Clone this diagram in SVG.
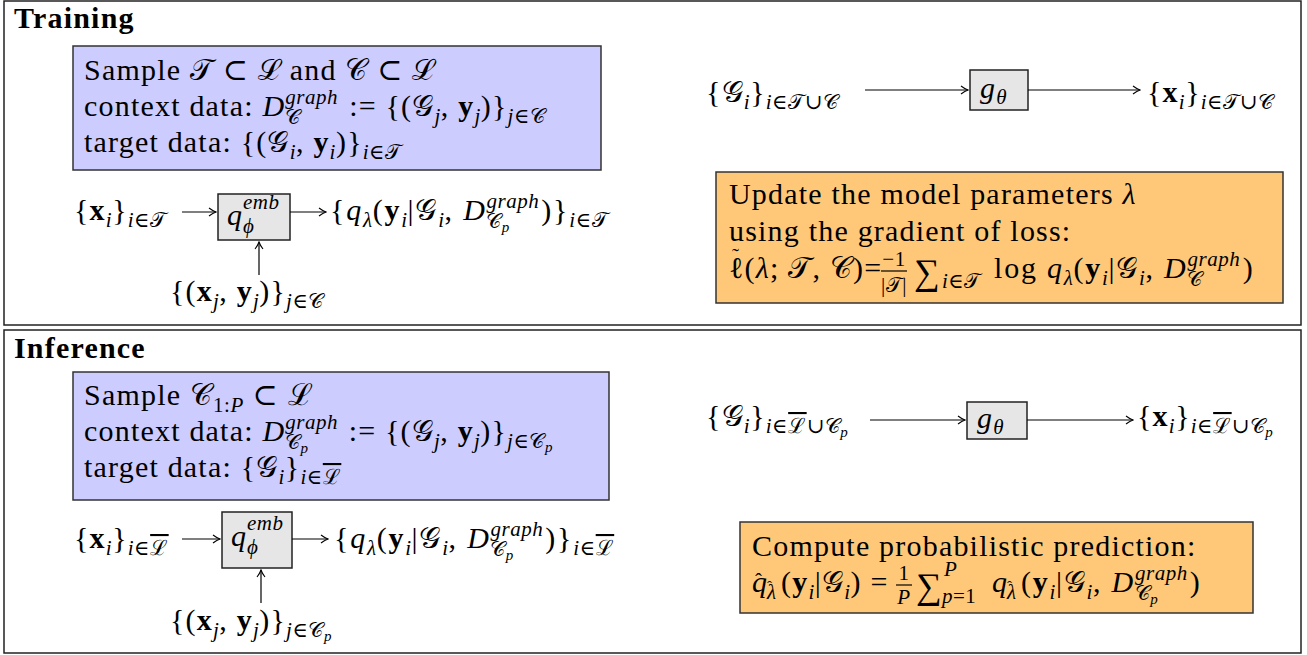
<svg xmlns="http://www.w3.org/2000/svg" width="1307" height="655" viewBox="0 0 1307 655">
<style>
text{font-family:"Liberation Serif","Times New Roman","DejaVu Serif",serif;font-size:30px;letter-spacing:1.2px;fill:#000}
.it{font-style:italic}
.bf{font-weight:bold}
.s{font-size:21px;letter-spacing:0.5px}
.ss{font-size:15px;letter-spacing:0}
.big{font-size:36px}
.frame{fill:#fff;stroke:#222;stroke-width:1.5}
.blue{fill:#ccccff;stroke:#333;stroke-width:1.5}
.orange{fill:#ffc879;stroke:#333;stroke-width:1.5}
.gray{fill:#e6e6e6;stroke:#222;stroke-width:1.5}
.conn line{stroke:#000;stroke-width:1.2;marker-end:url(#ah)}
.rule{stroke:#000;stroke-width:1.2}
</style>
<defs>
<marker id="ah" viewBox="-9 -5 10 10" markerWidth="10" markerHeight="10" refX="0" refY="0" orient="auto" markerUnits="userSpaceOnUse">
<path d="M-7,-4 Q-3,-1 0,0 Q-3,1 -7,4" fill="none" stroke="#000" stroke-width="1.1"/>
</marker>
</defs>
<rect width="1307" height="655" fill="#fff"/>

<g id="training-frame">
<rect class="frame" x="4" y="1" width="1297" height="324"/>
<text x="14" y="28" class="bf">Training</text>
</g>

<g id="training-sample">
<rect class="blue" x="73" y="46" width="528" height="124"/>
<text x="84" y="80">Sample 𝒯 ⊂ ℒ and 𝒞 ⊂ ℒ</text>
<text x="84" y="116">context data: <tspan class="it">D</tspan><tspan class="s it" dy="-12">graph</tspan><tspan class="s" dx="-53" dy="20">𝒞</tspan><tspan dx="40" dy="-8"> := {(𝒢</tspan><tspan class="s it" dy="7">j</tspan><tspan dy="-7">, </tspan><tspan class="bf">y</tspan><tspan class="s it" dy="7">j</tspan><tspan dy="-7">)}</tspan><tspan class="s" dy="7"><tspan class="it">j</tspan>∈𝒞</tspan></text>
<text x="84" y="152">target data: {(𝒢<tspan class="s it" dy="7">i</tspan><tspan dy="-7">, </tspan><tspan class="bf">y</tspan><tspan class="s it" dy="7">i</tspan><tspan dy="-7">)}</tspan><tspan class="s" dy="7"><tspan class="it">i</tspan>∈𝒯</tspan></text>
</g>

<g id="training-xin">
<text x="74" y="220">{<tspan class="bf">x</tspan><tspan class="s it" dy="7">i</tspan><tspan dy="-7">}</tspan><tspan class="s" dy="7"><tspan class="it">i</tspan>∈𝒯</tspan></text>
</g>
<g id="training-qemb">
<rect class="gray" x="218" y="194" width="72" height="46"/>
<text x="227" y="225" class="it">q</text>
<text x="243" y="209" class="s it">emb</text>
<text x="243" y="233" class="s it">ϕ</text>
</g>
<g id="training-out">
<text x="330" y="220" style="letter-spacing:1.8px">{<tspan class="it">q</tspan><tspan class="s it" dy="7">λ</tspan><tspan dy="-7">(</tspan><tspan class="bf">y</tspan><tspan class="s it" dy="7">i</tspan><tspan dy="-7">|𝒢</tspan><tspan class="s it" dy="7">i</tspan><tspan dy="-7">, </tspan><tspan class="it">D</tspan><tspan class="s it" dy="-12">graph</tspan><tspan class="s" dx="-53" dy="20">𝒞</tspan><tspan class="ss it" dy="4">p</tspan><tspan dx="32" dy="-12">)}</tspan><tspan class="s" dy="7"><tspan class="it">i</tspan>∈𝒯</tspan></text>
</g>
<g id="training-ctx">
<text x="170" y="301">{(<tspan class="bf">x</tspan><tspan class="s it" dy="7">j</tspan><tspan dy="-7">, </tspan><tspan class="bf">y</tspan><tspan class="s it" dy="7">j</tspan><tspan dy="-7">)}</tspan><tspan class="s" dy="7"><tspan class="it">j</tspan>∈𝒞</tspan></text>
</g>

<g id="training-gin">
<text x="706" y="102">{𝒢<tspan class="s it" dy="7">i</tspan><tspan dy="-7">}</tspan><tspan class="s" dy="7"><tspan class="it">i</tspan>∈𝒯∪𝒞</tspan></text>
</g>
<g id="training-gtheta">
<rect class="gray" x="970" y="70" width="58" height="40"/>
<text x="980" y="98" class="it">g<tspan class="s" dy="6">θ</tspan></text>
</g>
<g id="training-xout">
<text x="1147" y="102">{<tspan class="bf">x</tspan><tspan class="s it" dy="7">i</tspan><tspan dy="-7">}</tspan><tspan class="s" dy="7"><tspan class="it">i</tspan>∈𝒯∪𝒞</tspan></text>
</g>

<g id="training-update">
<rect class="orange" x="716" y="172" width="567" height="131"/>
<text x="729" y="204">Update the model parameters <tspan class="it">λ</tspan></text>
<text x="729" y="241">using the gradient of loss:</text>
<text x="729" y="278">ℓ(<tspan class="it">λ</tspan>; 𝒯, 𝒞)=</text>
<text x="732" y="263" class="s">˜</text>
<text x="894" y="266" class="s" text-anchor="middle">−1</text>
<line class="rule" x1="881" y1="271" x2="907" y2="271"/>
<text x="894" y="292" class="s" text-anchor="middle">|𝒯|</text>
<text x="914" y="284" class="big">∑</text>
<text x="942" y="288" class="s"><tspan class="it">i</tspan>∈𝒯</text>
<text x="994" y="278" style="letter-spacing:1.8px">log <tspan class="it">q</tspan><tspan class="s it" dy="7">λ</tspan><tspan dy="-7">(</tspan><tspan class="bf">y</tspan><tspan class="s it" dy="7">i</tspan><tspan dy="-7">|𝒢</tspan><tspan class="s it" dy="7">i</tspan><tspan dy="-7">, </tspan><tspan class="it">D</tspan><tspan class="s it" dy="-12">graph</tspan><tspan class="s" dx="-53" dy="20">𝒞</tspan><tspan dx="40" dy="-8">)</tspan></text>
</g>

<g id="inference-frame">
<rect class="frame" x="4" y="330" width="1297" height="323"/>
<text x="14" y="358" class="bf">Inference</text>
</g>

<g id="inference-sample">
<rect class="blue" x="73" y="372" width="536" height="128"/>
<text x="84" y="405">Sample 𝒞<tspan class="s" dy="7">1:<tspan class="it">P</tspan></tspan><tspan dy="-7"> ⊂ ℒ</tspan></text>
<text x="84" y="441">context data: <tspan class="it">D</tspan><tspan class="s it" dy="-12">graph</tspan><tspan class="s" dx="-53" dy="20">𝒞</tspan><tspan class="ss it" dy="4">p</tspan><tspan dx="32" dy="-12"> := {(𝒢</tspan><tspan class="s it" dy="7">j</tspan><tspan dy="-7">, </tspan><tspan class="bf">y</tspan><tspan class="s it" dy="7">j</tspan><tspan dy="-7">)}</tspan><tspan class="s" dy="7"><tspan class="it">j</tspan>∈𝒞</tspan><tspan class="ss it" dy="4">p</tspan></text>
<text x="84" y="477">target data: {𝒢<tspan class="s it" dy="7">i</tspan><tspan dy="-7">}</tspan><tspan class="s" dy="7"><tspan class="it">i</tspan>∈<tspan style="text-decoration:overline">ℒ</tspan></tspan></text>
</g>

<g id="inference-xin">
<text x="74" y="548">{<tspan class="bf">x</tspan><tspan class="s it" dy="7">i</tspan><tspan dy="-7">}</tspan><tspan class="s" dy="7"><tspan class="it">i</tspan>∈<tspan style="text-decoration:overline">ℒ</tspan></tspan></text>
</g>
<g id="inference-qemb">
<rect class="gray" x="222" y="512" width="70" height="56"/>
<text x="231" y="546" class="it">q</text>
<text x="247" y="530" class="s it">emb</text>
<text x="247" y="554" class="s it">ϕ</text>
</g>
<g id="inference-out">
<text x="334" y="548" style="letter-spacing:1.8px">{<tspan class="it">q</tspan><tspan class="s it" dy="7">λ</tspan><tspan dy="-7">(</tspan><tspan class="bf">y</tspan><tspan class="s it" dy="7">i</tspan><tspan dy="-7">|𝒢</tspan><tspan class="s it" dy="7">i</tspan><tspan dy="-7">, </tspan><tspan class="it">D</tspan><tspan class="s it" dy="-12">graph</tspan><tspan class="s" dx="-53" dy="20">𝒞</tspan><tspan class="ss it" dy="4">p</tspan><tspan dx="32" dy="-12">)}</tspan><tspan class="s" dy="7"><tspan class="it">i</tspan>∈<tspan style="text-decoration:overline">ℒ</tspan></tspan></text>
</g>
<g id="inference-ctx">
<text x="170" y="630">{(<tspan class="bf">x</tspan><tspan class="s it" dy="7">j</tspan><tspan dy="-7">, </tspan><tspan class="bf">y</tspan><tspan class="s it" dy="7">j</tspan><tspan dy="-7">)}</tspan><tspan class="s" dy="7"><tspan class="it">j</tspan>∈𝒞</tspan><tspan class="ss it" dy="4">p</tspan></text>
</g>

<g id="inference-gin">
<text x="706" y="426">{𝒢<tspan class="s it" dy="7">i</tspan><tspan dy="-7">}</tspan><tspan class="s" dy="7"><tspan class="it">i</tspan>∈<tspan style="text-decoration:overline">ℒ</tspan>∪𝒞</tspan><tspan class="ss it" dy="4">p</tspan></text>
</g>
<g id="inference-gtheta">
<rect class="gray" x="967" y="402" width="60" height="37"/>
<text x="977" y="428" class="it">g<tspan class="s" dy="6">θ</tspan></text>
</g>
<g id="inference-xout">
<text x="1137" y="426">{<tspan class="bf">x</tspan><tspan class="s it" dy="7">i</tspan><tspan dy="-7">}</tspan><tspan class="s" dy="7"><tspan class="it">i</tspan>∈<tspan style="text-decoration:overline">ℒ</tspan>∪𝒞</tspan><tspan class="ss it" dy="4">p</tspan></text>
</g>

<g id="inference-predict">
<rect class="orange" x="740" y="522" width="513" height="91"/>
<text x="752" y="556">Compute probabilistic prediction:</text>
<text x="752" y="592" class="it">q</text>
<text x="755" y="588" class="s">ˆ</text>
<text x="767" y="599" class="s it">λ</text>
<text x="767" y="591" class="ss">ˆ</text>
<text x="781" y="592">(<tspan class="bf">y</tspan><tspan class="s it" dy="7">i</tspan><tspan dy="-7">|𝒢</tspan><tspan class="s it" dy="7">i</tspan><tspan dy="-7">) =</tspan></text>
<text x="904" y="580" class="s" text-anchor="middle">1</text>
<line class="rule" x1="896" y1="585" x2="912" y2="585"/>
<text x="904" y="604" class="s it" text-anchor="middle">P</text>
<text x="916" y="598" class="big">∑</text>
<text x="944" y="576" class="s it">P</text>
<text x="942" y="603" class="s"><tspan class="it">p</tspan>=1</text>
<text x="992" y="592" class="it">q</text>
<text x="1007" y="599" class="s it">λ</text>
<text x="1007" y="591" class="ss">ˆ</text>
<text x="1021" y="592" style="letter-spacing:1.8px">(<tspan class="bf">y</tspan><tspan class="s it" dy="7">i</tspan><tspan dy="-7">|𝒢</tspan><tspan class="s it" dy="7">i</tspan><tspan dy="-7">, </tspan><tspan class="it">D</tspan><tspan class="s it" dy="-12">graph</tspan><tspan class="s" dx="-53" dy="20">𝒞</tspan><tspan class="ss it" dy="4">p</tspan><tspan dx="32" dy="-12">)</tspan></text>
</g>

<g id="connectors" class="conn">
<line x1="182" y1="212" x2="216" y2="212"/>
<line x1="290" y1="212" x2="326" y2="212"/>
<line x1="259" y1="275" x2="259" y2="242"/>
<line x1="865" y1="90" x2="968" y2="90"/>
<line x1="1028" y1="90" x2="1140" y2="90"/>
<line x1="182" y1="539" x2="220" y2="539"/>
<line x1="292" y1="539" x2="328" y2="539"/>
<line x1="261" y1="603" x2="261" y2="570"/>
<line x1="870" y1="420" x2="965" y2="420"/>
<line x1="1027" y1="420" x2="1133" y2="420"/>
</g>
</svg>
